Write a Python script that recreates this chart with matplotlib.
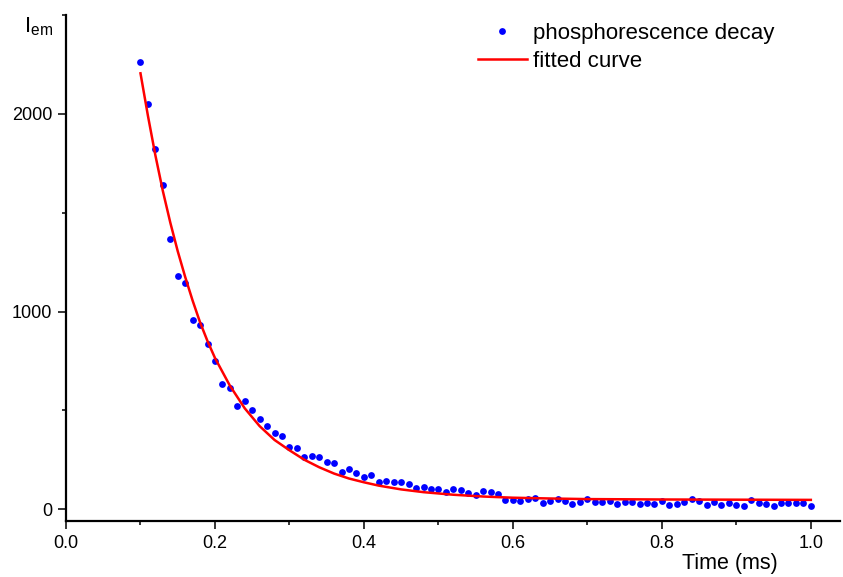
import matplotlib
matplotlib.use('Agg')
import matplotlib.pyplot as plt
from matplotlib.ticker import MultipleLocator
import numpy as np

plt.rcParams['font.family'] = ['Liberation Sans', 'DejaVu Sans']
plt.rcParams['mathtext.fontset'] = 'custom'
plt.rcParams['mathtext.rm'] = 'Liberation Sans'
plt.rcParams['mathtext.it'] = 'Liberation Sans'

# measured decay, one point every 0.01 ms from 0.10 to 1.00
time_ms = np.round(np.arange(10, 101) / 100.0, 2)
intensity = [
    2260, 2051, 1821, 1642, 1369, 1182, 1143, 957, 932, 835,
    748, 633, 613, 520, 547, 503, 457, 419, 383, 370,
    316, 311, 265, 268, 265, 240, 233, 187, 203, 182,
    164, 171, 138, 145, 135, 138, 125, 106, 113, 101,
    101, 85, 101, 96, 81, 72, 93, 86, 76, 46,
    46, 42, 52, 57, 32, 42, 52, 41, 27, 34,
    49, 34, 34, 42, 27, 37, 37, 25, 29, 27,
    39, 20, 27, 35, 49, 42, 19, 34, 22, 29,
    22, 14, 46, 30, 27, 17, 30, 29, 32, 32,
    17,
]

# fitted curve
fit_t = [0.10, 0.11, 0.12, 0.13, 0.14, 0.15, 0.16, 0.17, 0.18, 0.19,
         0.20, 0.22, 0.24, 0.26, 0.28, 0.30, 0.32, 0.34, 0.36, 0.38,
         0.40, 0.42, 0.45, 0.48, 0.52, 0.56, 0.60, 0.65, 0.70, 0.80,
         0.90, 1.00]
fit_val = [2205, 1990, 1790, 1610, 1450, 1305, 1175, 1055, 945, 850,
           765, 625, 510, 420, 350, 298, 250, 212, 180, 155,
           136, 119, 100, 86, 73, 64, 58, 54, 51, 49,
           48, 47]

fig = plt.figure(figsize=(8.43, 5.77), dpi=100)
ax = fig.add_axes([0.0783, 0.097, 0.918, 0.877])

ax.plot(time_ms, intensity, 'o', color='#0000ff', markersize=4.9,
        markeredgewidth=0, label='phosphorescence decay')
ax.plot(fit_t, fit_val, '-', color='#ff0000', linewidth=1.8,
        label='fitted curve')

ax.set_xlim(0, 1.039)
ax.set_ylim(-60, 2500)
ax.xaxis.set_major_locator(MultipleLocator(0.2))
ax.xaxis.set_minor_locator(MultipleLocator(0.1))
ax.yaxis.set_major_locator(MultipleLocator(1000))
ax.yaxis.set_minor_locator(MultipleLocator(500))
ax.xaxis.set_major_formatter(matplotlib.ticker.FormatStrFormatter('%.1f'))

for s in ['top', 'right']:
    ax.spines[s].set_visible(False)
for s in ['left', 'bottom']:
    ax.spines[s].set_linewidth(1.6)
ax.tick_params(which='major', direction='out', length=6, width=1.1,
               labelsize=13, pad=4)
ax.tick_params(which='minor', direction='out', length=3, width=1.1)

ax.text(-0.054, 1.0, r'I$_{\rm em}$', transform=ax.transAxes,
        ha='left', va='top', fontsize=16)
ax.text(0.92, -0.064, 'Time (ms)', transform=ax.transAxes,
        ha='right', va='top', fontsize=15.5)

leg = ax.legend(loc='upper left', bbox_to_anchor=(0.532, 0.984),
                frameon=False, fontsize=16, borderpad=0,
                borderaxespad=0, handlelength=2.2, handletextpad=0.3,
                labelspacing=0.3, numpoints=1)

fig.savefig('out.png', dpi=100)
